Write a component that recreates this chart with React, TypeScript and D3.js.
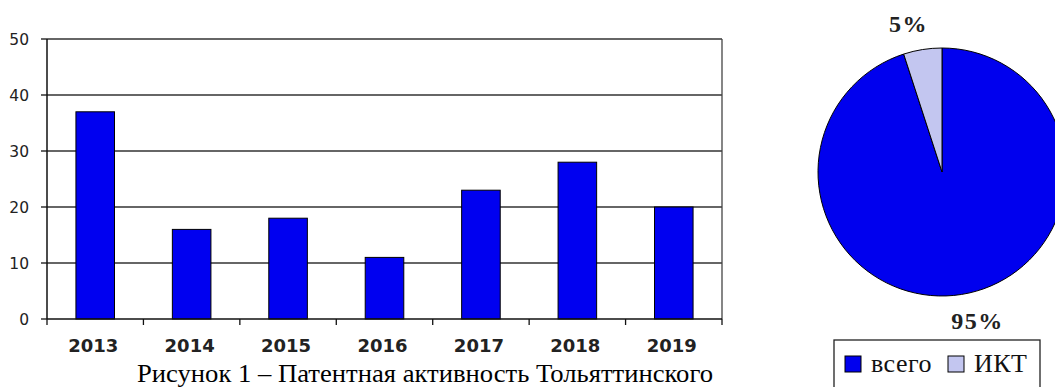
import React from "react";
import * as d3 from "d3";

const years = ["2013", "2014", "2015", "2016", "2017", "2018", "2019"];
const patents = [37, 16, 18, 11, 23, 28, 20];
const yTicks = [0, 10, 20, 30, 40, 50];
const pieLabels = ["всего", "ИКТ"];
const pieValues = [95, 5];
const pieColors = ["#0000ee", "#c3c6f0"];
const caption = "Рисунок 1 – Патентная активность Тольяттинского";

const SERIF = "'Liberation Serif', 'Times New Roman', Times, serif";
const SANS = "'DejaVu Sans', Verdana, sans-serif";

export default function App() {
  const W = 1055, H = 387;
  const plot = { left: 47, right: 722, top: 39, bottom: 319 };
  const x = d3.scaleBand<string>().domain(years).range([plot.left, plot.right]).paddingInner(0.6).paddingOuter(0.3);
  const xb = d3.scaleBand<string>().domain(years).range([plot.left, plot.right]);
  const y = d3.scaleLinear().domain([0, 50]).range([plot.bottom, plot.top]);

  const cx = 942, cy = 172, R = 124;
  const pie = d3.pie<number>().sort(null).value((d) => d)(pieValues);
  const arc = d3.arc<d3.PieArcDatum<number>>().innerRadius(0).outerRadius(R);
  const labelArc = d3.arc<d3.PieArcDatum<number>>().innerRadius(150).outerRadius(150);
  const total = d3.sum(pieValues);

  const tickPositions = years.map((yr) => xb(yr)!).concat([plot.right]);
  const legendX = [845, 948];

  return (
    <svg width={W} height={H} style={{ position: "absolute", left: 0, top: 0, background: "#fff" }}>
      <rect x={0} y={0} width={W} height={H} fill="#fff" />
      {yTicks.filter((t) => t > 0).map((t) => (
        <line key={t} x1={plot.left} x2={plot.right} y1={y(t)} y2={y(t)} stroke="#333" strokeWidth={1.3} />
      ))}
      <line x1={plot.right} x2={plot.right} y1={plot.top} y2={plot.bottom} stroke="#444" strokeWidth={1.3} />
      {years.map((yr, i) => (
        <rect key={yr} x={x(yr)} y={y(patents[i])} width={x.bandwidth()} height={y(0) - y(patents[i])}
          fill="#0000f0" stroke="#000" strokeWidth={1} />
      ))}
      <line x1={plot.left} x2={plot.left} y1={plot.top} y2={plot.bottom} stroke="#111" strokeWidth={1.5} />
      {yTicks.map((t) => (
        <g key={t}>
          <line x1={plot.left - 6} x2={plot.left} y1={y(t)} y2={y(t)} stroke="#111" strokeWidth={1.3} />
          <text x={29} y={y(t)} dy="0.36em" textAnchor="end" style={{ fontFamily: SANS }} fontSize={15.5} fill="#222">{t}</text>
        </g>
      ))}
      <line x1={plot.left} x2={plot.right} y1={plot.bottom} y2={plot.bottom} stroke="#111" strokeWidth={1.5} />
      {tickPositions.map((p, i) => (
        <line key={i} x1={p} x2={p} y1={plot.bottom} y2={plot.bottom + 6} stroke="#111" strokeWidth={1.3} />
      ))}
      {years.map((yr) => (
        <text key={yr} x={xb(yr)! + xb.bandwidth() / 2 - 2} y={352} textAnchor="middle"
          style={{ fontFamily: SANS }} fontWeight="bold" fontSize={18} fill="#222">{yr}</text>
      ))}
      <text x={137} y={382} style={{ fontFamily: SERIF }} fontSize={25} fill="#000"
        textLength={576} lengthAdjust="spacingAndGlyphs">{caption}</text>

      <g transform={`translate(${cx},${cy})`}>
        {pie.map((p, i) => (
          <path key={i} d={arc(p)!} fill={pieColors[i]} stroke="#000" strokeWidth={1} />
        ))}
        {pie.map((p, i) => {
          const [lx, ly] = labelArc.centroid(p);
          return (
            <text key={"l" + i} x={lx + (lx < 0 ? -10 : 12)} y={ly} dy="0.35em" textAnchor="middle"
              style={{ fontFamily: SERIF }} fontWeight="bold" fontSize={24} fill="#222" letterSpacing={1.5}>
              {Math.round((pieValues[i] / total) * 100) + "%"}
            </text>
          );
        })}
      </g>
      <rect x={834} y={340} width={206} height={60} fill="#fff" stroke="#222" strokeWidth={1.3} />
      {pieLabels.map((lab, i) => (
        <g key={lab}>
          <rect x={legendX[i]} y={356} width={16} height={16} fill={pieColors[i]} stroke="#000" strokeWidth={1} />
          <text x={legendX[i] + 26} y={372} style={{ fontFamily: SERIF }} fontSize={26} fill="#111" letterSpacing={0.5}>{lab}</text>
        </g>
      ))}
    </svg>
  );
}
